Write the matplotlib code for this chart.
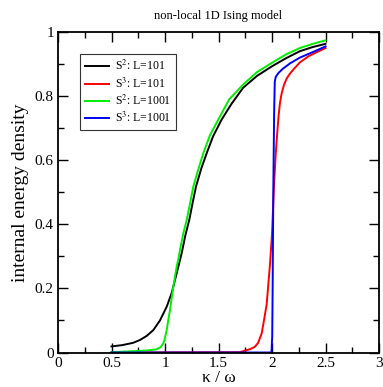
import numpy as np
import matplotlib
matplotlib.use('Agg')
import matplotlib.pyplot as plt
from matplotlib.ticker import MultipleLocator

plt.rcParams['font.family'] = ['Liberation Serif', 'DejaVu Serif']
plt.rcParams['mathtext.fontset'] = 'stix'

# S^2, L=101
k_s2_101 = [0.5, 0.6, 0.7, 0.766, 0.83, 0.891, 0.953, 1.016, 1.062, 1.109, 1.156, 1.19,
            1.227, 1.26, 1.29, 1.34, 1.39, 1.45, 1.53, 1.62, 1.73, 1.86, 2.0, 2.13,
            2.26, 2.38, 2.5]
e_s2_101 = [0.019, 0.023, 0.030, 0.039, 0.052, 0.07, 0.10, 0.143, 0.185, 0.247, 0.31, 0.365,
            0.414, 0.47, 0.518, 0.575, 0.622, 0.675, 0.727, 0.775, 0.826, 0.863, 0.893, 0.918,
            0.94, 0.953, 0.963]

# S^3, L=101
k_s3_101 = [0.5, 1.7, 1.748, 1.8, 1.84, 1.87, 1.904, 1.93, 1.95, 1.965, 1.98, 1.99, 2.0,
            2.01, 2.02, 2.035, 2.05, 2.062, 2.075, 2.09, 2.11, 2.137, 2.17, 2.2, 2.26,
            2.34, 2.418, 2.5]
e_s3_101 = [0.0, 0.001, 0.006, 0.011, 0.018, 0.03, 0.06, 0.11, 0.15, 0.21, 0.27, 0.32, 0.37,
            0.45, 0.53, 0.62, 0.69, 0.74, 0.78, 0.808, 0.833, 0.855, 0.871, 0.883, 0.905,
            0.924, 0.937, 0.95]

# S^2, L=1001
k_s2_1001 = [0.5, 0.766, 0.85, 0.922, 0.96, 0.985, 1.0, 1.016, 1.03, 1.047, 1.062, 1.078,
             1.094, 1.109, 1.125, 1.14, 1.17, 1.203, 1.235, 1.265, 1.31, 1.358, 1.42,
             1.498, 1.6, 1.73, 1.86, 2.0, 2.13, 2.26, 2.38, 2.5]
e_s2_1001 = [0.001, 0.005, 0.007, 0.01, 0.017, 0.029, 0.045, 0.07, 0.10, 0.133, 0.17, 0.206,
             0.238, 0.268, 0.292, 0.32, 0.37, 0.414, 0.467, 0.518, 0.57, 0.622, 0.678,
             0.727, 0.79, 0.836, 0.875, 0.904, 0.93, 0.95, 0.963, 0.974]

# S^3, L=1001
k_s3_1001 = [0.5, 1.995, 2.002, 2.006, 2.012, 2.02, 2.026, 2.035, 2.06, 2.1, 2.168, 2.26,
             2.386, 2.5]
e_s3_1001 = [0.0, 0.0, 0.05, 0.2, 0.5, 0.75, 0.845, 0.86, 0.872, 0.885, 0.902, 0.92,
             0.938, 0.955]

x_ticks = [0, 0.5, 1, 1.5, 2, 2.5, 3]
x_labels = ['0', '0.5', '1', '1.5', '2', '2.5', '3']
y_ticks = [0, 0.2, 0.4, 0.6, 0.8, 1]
y_labels = ['0', '0.2', '0.4', '0.6', '0.8', '1']

fig = plt.figure(figsize=(3.83, 3.87), dpi=100)
ax = fig.add_axes([58/383, 1-352.5/387, 321/383, 320.5/387])

ax.plot(k_s2_101, e_s2_101, color='black', lw=1.4, label='S$^2$: L=101')
ax.plot(k_s3_101, e_s3_101, color='red', lw=1.4, label='S$^3$: L=101')
ax.plot(k_s2_1001, e_s2_1001, color='#00ee00', lw=1.4, label='S$^2$: L=1001')
ax.plot(k_s3_1001, e_s3_1001, color='blue', lw=1.4, label='S$^3$: L=1001')

ax.set_xlim(0, 3)
ax.set_ylim(0, 1)
ax.set_xticks(x_ticks)
ax.set_xticklabels(x_labels)
ax.set_yticks(y_ticks)
ax.set_yticklabels(y_labels)
ax.xaxis.set_minor_locator(MultipleLocator(0.25))
ax.yaxis.set_minor_locator(MultipleLocator(0.1))
ax.tick_params(which='both', direction='in', top=True, right=True, labelsize=11, width=1.0)
ax.tick_params(which='major', length=7, pad=3)
ax.tick_params(which='minor', length=4)
for s in ax.spines.values():
    s.set_linewidth(1.3)

ax.set_xlabel('κ / ω', fontsize=12.5)
ax.xaxis.set_label_coords(0.5, -0.056)
ax.set_ylabel('internal energy density', fontsize=14, labelpad=4)
ax.set_title('non-local 1D Ising model', fontsize=9, pad=9)

leg = ax.legend(loc='upper left', bbox_to_anchor=(0.07, 0.93), fontsize=8.5,
                frameon=True, fancybox=False, edgecolor='black', handlelength=2.0,
                handletextpad=0.5, labelspacing=0.25, borderpad=0.4, borderaxespad=0)
leg.get_frame().set_linewidth(0.8)

fig.savefig('out.png', dpi=100)
